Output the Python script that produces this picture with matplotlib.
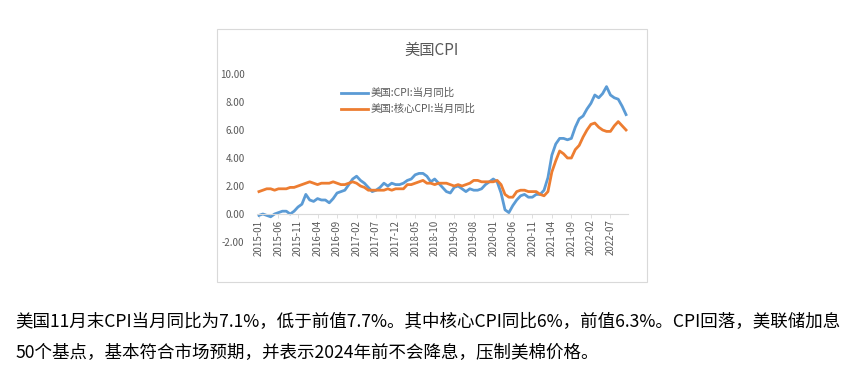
import matplotlib
matplotlib.use("Agg")
import matplotlib.pyplot as plt
from matplotlib.patches import Rectangle
import pandas as pd

plt.rcParams['font.family'] = ['Noto Sans CJK SC', 'DejaVu Sans']

# monthly, 2015-01 .. 2022-11
months = [p.strftime('%Y-%m') for p in pd.period_range('2015-01', '2022-11', freq='M')]

cpi_yoy = [
    -0.1, 0.0, -0.1, -0.2, 0.0, 0.1, 0.2, 0.2, 0.0, 0.2, 0.5, 0.7,
    1.4, 1.0, 0.9, 1.1, 1.0, 1.0, 0.8, 1.1, 1.5, 1.6, 1.7, 2.1,
    2.5, 2.7, 2.4, 2.2, 1.9, 1.6, 1.7, 1.9, 2.2, 2.0, 2.2, 2.1,
    2.1, 2.2, 2.4, 2.5, 2.8, 2.9, 2.9, 2.7, 2.3, 2.5, 2.2, 1.9,
    1.6, 1.5, 1.9, 2.0, 1.8, 1.6, 1.8, 1.7, 1.7, 1.8, 2.1, 2.3,
    2.5, 2.3, 1.5, 0.3, 0.1, 0.6, 1.0, 1.3, 1.4, 1.2, 1.2, 1.4,
    1.4, 1.7, 2.6, 4.2, 5.0, 5.4, 5.4, 5.3, 5.4, 6.2, 6.8, 7.0,
    7.5, 7.9, 8.5, 8.3, 8.6, 9.1, 8.5, 8.3, 8.2, 7.7, 7.1,
]
core_cpi_yoy = [
    1.6, 1.7, 1.8, 1.8, 1.7, 1.8, 1.8, 1.8, 1.9, 1.9, 2.0, 2.1,
    2.2, 2.3, 2.2, 2.1, 2.2, 2.2, 2.2, 2.3, 2.2, 2.1, 2.1, 2.2,
    2.3, 2.2, 2.0, 1.9, 1.7, 1.7, 1.7, 1.7, 1.7, 1.8, 1.7, 1.8,
    1.8, 1.8, 2.1, 2.1, 2.2, 2.3, 2.4, 2.2, 2.2, 2.1, 2.2, 2.2,
    2.2, 2.1, 2.0, 2.1, 2.0, 2.1, 2.2, 2.4, 2.4, 2.3, 2.3, 2.3,
    2.3, 2.4, 2.1, 1.4, 1.2, 1.2, 1.6, 1.7, 1.7, 1.6, 1.6, 1.6,
    1.4, 1.3, 1.6, 3.0, 3.8, 4.5, 4.3, 4.0, 4.0, 4.6, 4.9, 5.5,
    6.0, 6.4, 6.5, 6.2, 6.0, 5.9, 5.9, 6.3, 6.6, 6.3, 6.0,
]

title = '美国CPI'
series_names = ['美国:CPI:当月同比', '美国:核心CPI:当月同比']
note_lines = [
    '美国11月末CPI当月同比为7.1%，低于前值7.7%。其中核心CPI同比6%，前值6.3%。CPI回落，美联储加息',
    '50个基点，基本符合市场预期，并表示2024年前不会降息，压制美棉价格。',
]

gray = '#595959'
W, H = 860, 378

fig = plt.figure(figsize=(W / 100, H / 100), dpi=100)
fig.patch.set_facecolor('white')

# chart frame
fig.patches.append(Rectangle((217 / W, 1 - 282 / H), 430 / W, 253 / H,
                             transform=fig.transFigure, fill=False,
                             edgecolor='#D9D9D9', linewidth=0.8))

ax = fig.add_axes([257 / W, 1 - 242 / H, (628 - 257) / W, (242 - 74) / H])
x = list(range(len(months)))
ax.plot(x, cpi_yoy, color='#5B9BD5', linewidth=2.0, label=series_names[0])
ax.plot(x, core_cpi_yoy, color='#ED7D31', linewidth=2.0, label=series_names[1])

# spine first: moving it resets the tick styling
for s in ['top', 'right', 'left']:
    ax.spines[s].set_visible(False)
ax.spines['bottom'].set_position(('data', 0))
ax.spines['bottom'].set_color('#D9D9D9')
ax.spines['bottom'].set_linewidth(0.8)
ax.set_facecolor('none')

ax.set_xlim(-0.5, len(months) - 0.5)
ax.set_ylim(-2, 10)
ax.set_yticks([-2, 0, 2, 4, 6, 8, 10])
ax.set_yticklabels([f'{v:.2f}' for v in [-2, 0, 2, 4, 6, 8, 10]])
ax.tick_params(axis='y', length=0, pad=9, labelsize=7, labelcolor=gray)

tick_idx = list(range(0, len(months), 5))
ax.set_xticks(tick_idx)
ax.set_xticklabels([months[i] for i in tick_idx])
ax.tick_params(axis='x', length=3, width=0.6, color='#D9D9D9', pad=1,
               labelsize=7, labelcolor=gray, labelrotation=90)

leg = ax.legend(loc='upper left', bbox_to_anchor=(341 / W, 1 - 88 / H),
                bbox_transform=fig.transFigure, frameon=False, fontsize=7.5,
                handlelength=2.6, handletextpad=0.2, labelspacing=0.55,
                borderpad=0, borderaxespad=0)
for t in leg.get_texts():
    t.set_color(gray)

fig.text(432 / W, 1 - 50 / H, title, ha='center', va='center',
         fontsize=11, color=gray)

fig.text(15 / W, 1 - 322 / H, note_lines[0], ha='left', va='center',
         fontsize=12.6, color='black')
fig.text(15 / W, 1 - 353 / H, note_lines[1], ha='left', va='center',
         fontsize=12.6, color='black')

fig.savefig('out.png', dpi=100, facecolor='white')
